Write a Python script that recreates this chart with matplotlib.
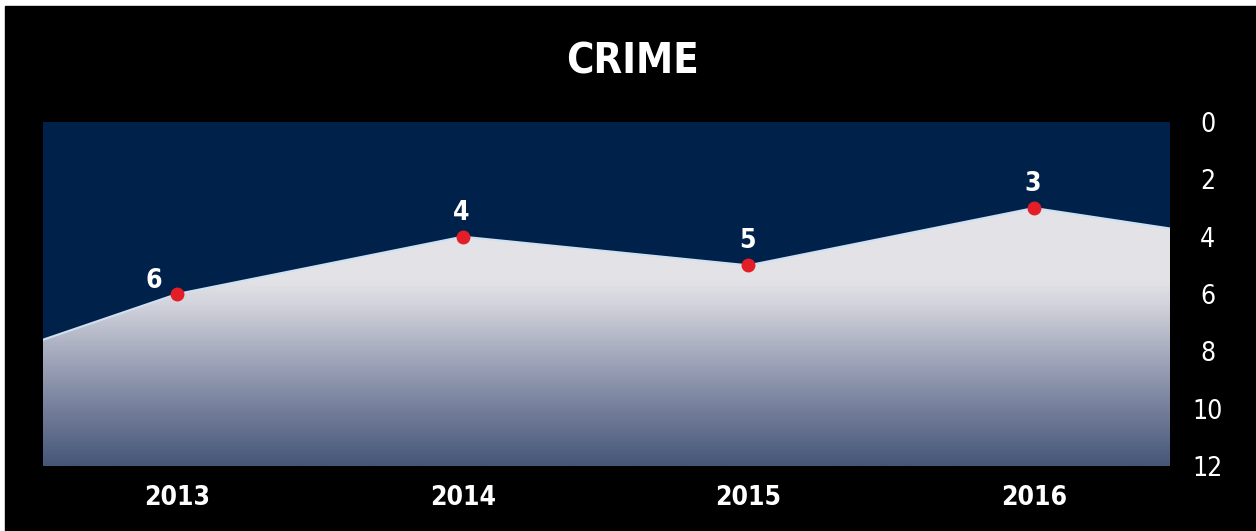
import matplotlib as mpl
import matplotlib.pyplot as plt
import numpy as np
from matplotlib.colors import LinearSegmentedColormap
from matplotlib.patches import Rectangle
from matplotlib import font_manager

# data (2012 and 2017 only shape the area edges)
years = [2012, 2013, 2014, 2015, 2016, 2017]
values = [9.4, 6, 4, 5, 3, 4.5]
shown_years = [2013, 2014, 2015, 2016]
shown_values = [6, 4, 5, 3]
y_ticks = [0, 2, 4, 6, 8, 10, 12]

title = 'CRIME'

names = {f.name for f in font_manager.fontManager.ttflist}
if 'Liberation Sans Narrow' in names:
    font = ['Liberation Sans Narrow', 'DejaVu Sans']
    stretch = 'normal'
else:
    font = ['DejaVu Sans']
    stretch = 'condensed'

mpl.rcParams.update({'font.family': font, 'font.stretch': stretch})
fig = plt.figure(figsize=(12.56, 5.31), dpi=100)
fig.patch.set_facecolor('white')
# black panel with thin white margin at top and left
fig.add_artist(Rectangle((5 / 1256, 0), 1, (531 - 6) / 531,
                         transform=fig.transFigure, color='black', zorder=-5))

ax = fig.add_axes([43 / 1256, 1 - 466 / 531, 1127 / 1256, 344 / 531])
ax.set_facecolor('#00214a')

x_lo, x_hi = 2012.531, 2016.476
ax.set_xlim(x_lo, x_hi)
ax.set_ylim(12, 0)

# gradient filled area clipped to the polygon under the line
cmap = LinearSegmentedColormap.from_list('area', [
    (0.0, '#e5e5e8'), (0.46, '#e3e3e7'), (0.53, '#d2d3dc'),
    (0.66, '#a9aec0'), (0.83, '#76809c'), (1.0, '#465677')])
grad = np.linspace(0, 1, 256).reshape(-1, 1)
poly = ax.fill_between(years, values, 12, color='none', lw=0)
img = ax.imshow(grad, cmap=cmap, aspect='auto', extent=[x_lo, x_hi, 12, 0],
                origin='upper', zorder=1)
img.set_clip_path(poly.get_paths()[0], transform=ax.transData)
ax.plot(years, values, color='#cfe0f2', lw=1.5, zorder=2)

ax.plot(shown_years, shown_values, 'o', color='#e31e26', ms=9, zorder=3)
for x, v in zip(shown_years, shown_values):
    if x == 2013:
        ax.annotate(str(v), (x, v), xytext=(-11, 0), textcoords='offset points',
                    ha='right', va='bottom', color='white', fontsize=19,
                    fontweight='bold')
    else:
        ax.annotate(str(v), (x, v), xytext=(-1, 8), textcoords='offset points',
                    ha='center', va='bottom', color='white', fontsize=19,
                    fontweight='bold')

ax.set_xticks(shown_years)
ax.set_xticklabels([str(y) for y in shown_years], color='white',
                   fontsize=19, fontweight='bold')
ax.yaxis.tick_right()
ax.set_yticks(y_ticks)
ax.set_yticklabels([str(t) for t in y_ticks], color='white', fontsize=19,
                   ha='center')
ax.tick_params(axis='x', length=0, pad=14)
ax.tick_params(axis='y', length=0, pad=27)
for s in ax.spines.values():
    s.set_visible(False)

fig.text(632 / 1256, 1 - 62 / 531, title, color='white', fontsize=30,
         fontweight='bold', ha='center', va='center')

plt.savefig('out.png', dpi=100)
